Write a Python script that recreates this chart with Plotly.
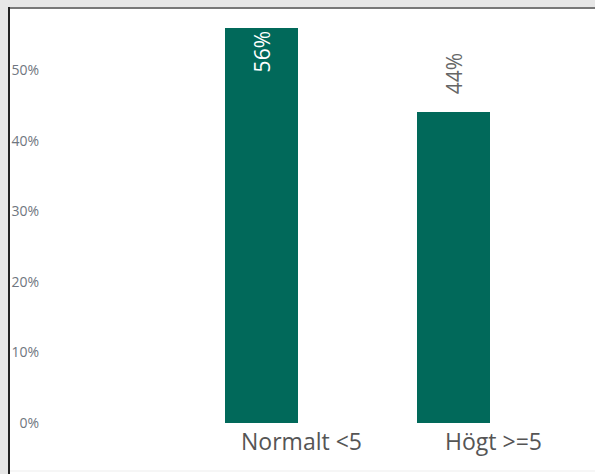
import plotly.graph_objects as go

categories = ["Normalt <5", "Högt >=5"]
values = [0.56, 0.44]
labels = ["56%", "44%"]
tick_vals = [0, 0.1, 0.2, 0.3, 0.4, 0.5]
tick_text = ["0%", "10%", "20%", "30%", "40%", "50%"]

W, H = 595, 474
L, R, T, B = 40, 595, 9, 423

def px(x):
    return (x - L) / (R - L)

def py(y):
    return (B - y) / (B - T)

fig = go.Figure()
fig.add_trace(go.Bar(
    x=[0, 1], y=values, width=0.38,
    marker=dict(color="#01695A", line=dict(width=0)),
    text=[labels[0], ""], textangle=-90,
    textposition="inside",
    insidetextanchor="end",
    constraintext="none",
    insidetextfont=dict(color="white", size=21),
    cliponaxis=False,
    hoverinfo="skip",
))
fig.add_annotation(
    x=1, y=values[1], xref="x", yref="y", text=labels[1], textangle=-90,
    showarrow=False, yanchor="bottom", yshift=16,
    font=dict(color="#666666", size=21),
)

fig.update_layout(
    width=W, height=H,
    margin=dict(l=L, r=W - R, t=T, b=H - B),
    paper_bgcolor="white", plot_bgcolor="white",
    font=dict(family="Segoe UI, Open Sans, sans-serif"),
    showlegend=False,
    bargap=0,
    xaxis=dict(
        range=[(L - 261.5) / 192, (R - 261.5) / 192],
        tickvals=[0, 1], ticktext=categories,
        ticklabelshift=40,
        ticklabelstandoff=3,
        tickfont=dict(size=23, color="#555555"),
        showgrid=False, zeroline=False, showline=False, ticks="",
    ),
    yaxis=dict(
        range=[0, (B - T) / 706],
        tickvals=tick_vals, ticktext=tick_text,
        tickfont=dict(size=14, color="#6f7680"),
        showgrid=False, zeroline=False, showline=False, ticks="",
    ),
    shapes=[
        dict(type="rect", xref="paper", yref="paper", x0=px(0), x1=px(W), y0=py(0), y1=py(7), fillcolor="#e6e6e6", line=dict(width=0), layer="above"),
        dict(type="rect", xref="paper", yref="paper", x0=px(0), x1=px(8), y0=py(0), y1=py(H), fillcolor="#e6e6e6", line=dict(width=0), layer="above"),
        dict(type="rect", xref="paper", yref="paper", x0=px(8), x1=px(W), y0=py(7), y1=py(9), fillcolor="#777777", line=dict(width=0), layer="above"),
        dict(type="rect", xref="paper", yref="paper", x0=px(8), x1=px(10), y0=py(7), y1=py(H), fillcolor="#222222", line=dict(width=0), layer="above"),
        dict(type="rect", xref="paper", yref="paper", x0=px(10), x1=px(W), y0=py(470.5), y1=py(471.5), fillcolor="#eeeeee", line=dict(width=0), layer="above"),
    ],
)

fig.write_html("out.html")
